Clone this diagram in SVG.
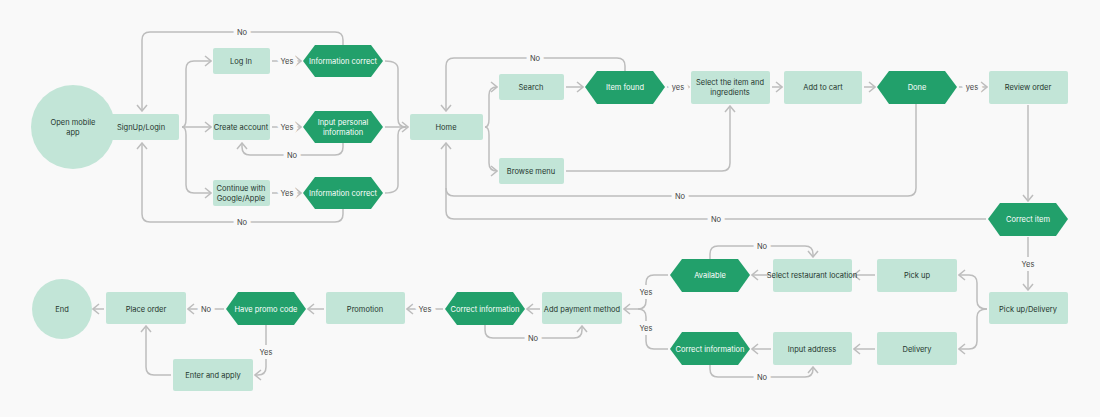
<svg xmlns="http://www.w3.org/2000/svg" width="1100" height="417" viewBox="0 0 1100 417">
<style>
text{font-family:Inter,"Liberation Sans",sans-serif;font-size:7.5px;text-anchor:middle;dominant-baseline:central}
.l{fill:#c2e5d7}
.d{fill:#22a06b}
.lt{fill:#24352d}
.dt{fill:#ffffff}
.c path{fill:none;stroke:#bdbdbd;stroke-width:1.5}
.c .a{marker-end:url(#ar)}
.lab{fill:#444;paint-order:stroke;stroke:#f9f9f9;stroke-width:8px}
</style>
<defs>
<marker id="ar" viewBox="0 0 8 12" refX="7" refY="6" markerWidth="8" markerHeight="12" markerUnits="userSpaceOnUse" orient="auto"><path d="M1,1 L7,6 L1,11" fill="none" stroke="#bdbdbd" stroke-width="1.5"/></marker>
</defs>
<rect width="1100" height="417" fill="#f9f9f9"/>
<g class="c">
<path class="a" d="M117,127 H101"/>
<path class="a" d="M182,127 H211"/>
<path class="a" d="M182,127 Q186,127 186,119 V69 Q186,61 194,61 H211"/>
<path class="a" d="M182,127 Q186,127 186,135 V185 Q186,193 194,193 H211"/>
<path class="a" d="M272,61 H301"/>
<path class="a" d="M272,127 H301"/>
<path class="a" d="M272,193 H301"/>
<path class="a" d="M343,45 V40 Q343,32 335,32 H150 Q142,32 142,40 V111"/>
<path class="a" d="M343,209 V214 Q343,222 335,222 H150 Q142,222 142,214 V143"/>
<path class="a" d="M343,143 V147 Q343,155 335,155 H250 Q242,155 242,147 V143"/>
<path d="M385,61 Q398,61 398,69 V119 Q398,127 406,127"/>
<path d="M385,193 Q398,193 398,185 V135 Q398,127 406,127"/>
<path class="a" d="M385,127 H408"/>
<path class="a" d="M485,127 Q489,127 489,119 V95 Q489,87 497,87 H497"/>
<path class="a" d="M485,127 Q489,127 489,135 V163 Q489,171 497,171 H497"/>
<path class="a" d="M566,87 H583"/>
<path class="a" d="M625,71 V66 Q625,58 617,58 H454 Q446,58 446,66 V111"/>
<path class="a" d="M667,87 H689"/>
<path class="a" d="M772,87 H782"/>
<path class="a" d="M864,87 H875"/>
<path class="a" d="M959,87 H987"/>
<path class="a" d="M566,171 H722 Q730,171 730,163 V106"/>
<path class="a" d="M916,104 V188 Q916,196 908,196 H454 Q446,196 446,188 V143"/>
<path d="M986,219 H454 Q446,219 446,211 V188"/>
<path class="a" d="M1028,105 V201"/>
<path class="a" d="M1028,237 V290"/>
<path class="a" d="M987,309 Q977,309 977,301 V283 Q977,275 969,275 H959"/>
<path class="a" d="M987,309 Q977,309 977,317 V341 Q977,349 969,349 H959"/>
<path class="a" d="M875,275 H854"/>
<path class="a" d="M771,275 H752"/>
<path class="a" d="M710,259 V254 Q710,246 718,246 H805 Q813,246 813,254 V257"/>
<path class="a" d="M668,275 H654 Q646,275 646,283 V301 Q646,309 638,309 H624"/>
<path class="a" d="M875,349 H854"/>
<path class="a" d="M771,349 H752"/>
<path class="a" d="M710,365 V369 Q710,377 718,377 H805 Q813,377 813,369 V367"/>
<path d="M668,349 H654 Q646,349 646,341 V317 Q646,309 638,309"/>
<path class="a" d="M540,309 H527"/>
<path class="a" d="M485,325 V330 Q485,338 493,338 H574 Q582,338 582,330 V326"/>
<path class="a" d="M443,309 H407"/>
<path class="a" d="M324,309 H308"/>
<path class="a" d="M224,309 H188"/>
<path class="a" d="M266,325 V367 Q266,375 258,375 H255"/>
<path class="a" d="M171,375 H154 Q146,375 146,367 V326"/>
<path class="a" d="M104,309 H93"/>
<text class="lab" x="242" y="32">No</text>
<text class="lab" x="242" y="222">No</text>
<text class="lab" x="292" y="155">No</text>
<text class="lab" x="287" y="61">Yes</text>
<text class="lab" x="287" y="127">Yes</text>
<text class="lab" x="287" y="193">Yes</text>
<text class="lab" x="535" y="58">No</text>
<text class="lab" x="678" y="87">yes</text>
<text class="lab" x="972" y="87">yes</text>
<text class="lab" x="680" y="196">No</text>
<text class="lab" x="716" y="219">No</text>
<text class="lab" x="1028" y="264">Yes</text>
<text class="lab" x="762" y="246">No</text>
<text class="lab" x="762" y="377">No</text>
<text class="lab" x="646" y="292">Yes</text>
<text class="lab" x="646" y="328">Yes</text>
<text class="lab" x="533" y="338">No</text>
<text class="lab" x="425" y="309">Yes</text>
<text class="lab" x="206" y="309">No</text>
<text class="lab" x="266" y="352">Yes</text>
</g>
<g id="open"><circle class="l" cx="73" cy="127" r="42"/><text class="lt" x="73" y="122">Open mobile</text><text class="lt" x="73" y="132">app</text></g>
<g id="signup"><rect class="l" x="103" y="114" width="76" height="26" rx="2"/><text class="lt" x="141" y="127">SignUp/Login</text></g>
<g id="login"><rect class="l" x="213" y="48" width="57" height="26" rx="2"/><text class="lt" x="241" y="61">Log In</text></g>
<g id="info1"><path class="d" d="M303,61 L315,45 H371 L383,61 L371,77 H315 Z"/><text class="dt" x="343" y="61">Information correct</text></g>
<g id="create"><rect class="l" x="213" y="114" width="57" height="26" rx="2"/><text class="lt" x="241" y="127">Create account</text></g>
<g id="input"><path class="d" d="M303,127 L315,111 H371 L383,127 L371,143 H315 Z"/><text class="dt" x="343" y="122">Input personal</text><text class="dt" x="343" y="132">information</text></g>
<g id="google"><rect class="l" x="213" y="180" width="57" height="26" rx="2"/><text class="lt" x="241" y="188">Continue with</text><text class="lt" x="241" y="198">Google/Apple</text></g>
<g id="info3"><path class="d" d="M303,193 L315,177 H371 L383,193 L371,209 H315 Z"/><text class="dt" x="343" y="193">Information correct</text></g>
<g id="home"><rect class="l" x="410" y="114" width="73" height="26" rx="2"/><text class="lt" x="446" y="127">Home</text></g>
<g id="search"><rect class="l" x="499" y="74" width="65" height="26" rx="2"/><text class="lt" x="531" y="87">Search</text></g>
<g id="found"><path class="d" d="M585,87 L597,71 H653 L665,87 L653,104 H597 Z"/><text class="dt" x="625" y="87">Item found</text></g>
<g id="select"><rect class="l" x="691" y="71" width="79" height="33" rx="2"/><text class="lt" x="730" y="82">Select the item and</text><text class="lt" x="730" y="92">ingredients</text></g>
<g id="cart"><rect class="l" x="784" y="71" width="78" height="33" rx="2"/><text class="lt" x="823" y="87">Add to cart</text></g>
<g id="done"><path class="d" d="M877,87 L889,71 H945 L957,87 L945,104 H889 Z"/><text class="dt" x="917" y="87">Done</text></g>
<g id="review"><rect class="l" x="989" y="71" width="79" height="33" rx="2"/><text class="lt" x="1028" y="87">Review order</text></g>
<g id="browse"><rect class="l" x="499" y="158" width="65" height="26" rx="2"/><text class="lt" x="531" y="171">Browse menu</text></g>
<g id="correctitem"><path class="d" d="M988,219 L1000,203 H1056 L1068,219 L1056,236 H1000 Z"/><text class="dt" x="1028" y="219">Correct item</text></g>
<g id="pud"><rect class="l" x="989" y="292" width="79" height="32" rx="2"/><text class="lt" x="1028" y="309">Pick up/Delivery</text></g>
<g id="pickup"><rect class="l" x="877" y="259" width="80" height="33" rx="2"/><text class="lt" x="917" y="275">Pick up</text></g>
<g id="delivery"><rect class="l" x="877" y="332" width="80" height="33" rx="2"/><text class="lt" x="917" y="349">Delivery</text></g>
<g id="restaurant"><rect class="l" x="773" y="259" width="79" height="33" rx="2"/><text class="lt" x="812" y="275">Select restaurant location</text></g>
<g id="address"><rect class="l" x="773" y="332" width="79" height="33" rx="2"/><text class="lt" x="812" y="349">Input address</text></g>
<g id="available"><path class="d" d="M670,275 L682,259 H738 L750,275 L738,292 H682 Z"/><text class="dt" x="710" y="275">Available</text></g>
<g id="info4"><path class="d" d="M670,349 L682,332 H738 L750,349 L738,365 H682 Z"/><text class="dt" x="710" y="349">Correct information</text></g>
<g id="payment"><rect class="l" x="542" y="292" width="80" height="32" rx="2"/><text class="lt" x="582" y="309">Add payment method</text></g>
<g id="info5"><path class="d" d="M445,309 L457,292 H513 L525,309 L513,325 H457 Z"/><text class="dt" x="485" y="309">Correct information</text></g>
<g id="promotion"><rect class="l" x="326" y="292" width="79" height="32" rx="2"/><text class="lt" x="365" y="309">Promotion</text></g>
<g id="promo"><path class="d" d="M226,309 L238,292 H294 L306,309 L294,325 H238 Z"/><text class="dt" x="266" y="309">Have promo code</text></g>
<g id="place"><rect class="l" x="106" y="292" width="80" height="32" rx="2"/><text class="lt" x="146" y="309">Place order</text></g>
<g id="enter"><rect class="l" x="173" y="359" width="80" height="32" rx="2"/><text class="lt" x="213" y="375">Enter and apply</text></g>
<g id="end"><circle class="l" cx="62" cy="309" r="30"/><text class="lt" x="62" y="309">End</text></g>
</svg>
